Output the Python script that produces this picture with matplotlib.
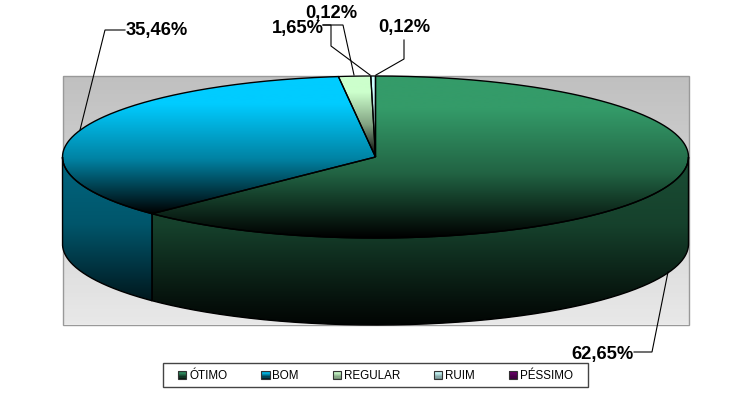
import numpy as np
import matplotlib
matplotlib.use("Agg")
import matplotlib.pyplot as plt
from matplotlib.patches import PathPatch, Rectangle, Patch
from matplotlib.path import Path
from matplotlib.legend_handler import HandlerBase
from matplotlib.colors import LinearSegmentedColormap, to_rgb

plt.rcParams["font.family"] = ["Liberation Sans", "DejaVu Sans"]

categories = ["ÓTIMO", "BOM", "REGULAR", "RUIM", "PÉSSIMO"]
values = [62.65, 35.46, 1.65, 0.12, 0.12]
value_labels = ["62,65%", "35,46%", "1,65%", "0,12%", "0,12%"]
colors = ["#349b69", "#00ccff", "#ccffcc", "#ccffff", "#660066"]

# geometria do disco, em pixels da figura
CX, CY = 375.5, 157
RX, RY = 313, 81
DEPTH = 87


def rim(t):
    # t em graus, sentido horario a partir do topo
    t = np.radians(t)
    return CX + RX * np.sin(t), CY - RY * np.cos(t)


def gradient(ax, path, stops, y0, y1, lw=1.0):
    cmap = LinearSegmentedColormap.from_list("g", stops)
    im = ax.imshow(np.linspace(0, 1, 256).reshape(-1, 1), cmap=cmap, aspect="auto",
                   extent=(0, 742, y1, y0), vmin=0, vmax=1, zorder=2)
    patch = PathPatch(path, fc="none", ec="black", lw=lw, zorder=3)
    ax.add_patch(patch)
    im.set_clip_path(patch)


def top_path(a, b):
    ts = np.linspace(a, b, max(int(b - a) * 2, 4))
    x, y = rim(ts)
    pts = [(CX, CY)] + list(zip(x, y)) + [(CX, CY)]
    return Path(pts)


def side_path(a, b):
    ts = np.linspace(a, b, max(int(b - a) * 2, 4))
    x, y = rim(ts)
    up = list(zip(x, y))
    down = list(zip(x[::-1], y[::-1] + DEPTH))
    return Path(up + down + [up[0]])


def top_stops(rgb):
    return [(0, rgb), (0.2, rgb), (0.6, rgb * 0.64), (1, (0, 0, 0))]


def side_stops(rgb):
    return [(0, rgb * 0.5), (0.4, rgb * 0.42), (0.85, rgb * 0.12), (1, rgb * 0.03)]


class GradientHandler(HandlerBase):
    def create_artists(self, legend, orig, xd, yd, w, h, fontsize, trans):
        out = []
        base = np.array(to_rgb(orig.get_facecolor()))
        light = orig.get_label() in ("REGULAR", "RUIM", "PÉSSIMO")
        for i in range(6):
            c = base * (1 - i / 12) if light else base * (1 - i / 6)
            out.append(Rectangle((-xd, -yd + h * (5 - i) / 6), w, h / 6, fc=c, ec="none", transform=trans))
        out.append(Rectangle((-xd, -yd), w, h, fc="none", ec="#333333", lw=0.8, transform=trans))
        return out


fig = plt.figure(figsize=(7.42, 4.07), dpi=100)
ax = fig.add_axes([0, 0, 1, 1])
ax.axis("off")

# fundo da area de plotagem
bg = Rectangle((62.5, 75.5), 626, 249, fc="none", ec="#999999", lw=1.0, zorder=1)
ax.add_patch(bg)
im = ax.imshow(np.linspace(0, 1, 64).reshape(-1, 1),
               cmap=LinearSegmentedColormap.from_list("bg", ["#c0c0c0", "#e8e8e8"]),
               aspect="auto", extent=(0, 742, 325, 75), vmin=0, vmax=1, zorder=0.5)
im.set_clip_path(bg)

# faces laterais e superiores
edges = np.concatenate([[0], np.cumsum(values)]) / sum(values) * 360
for i in range(len(values)):
    a, b = edges[i], edges[i + 1]
    rgb = np.array(to_rgb(colors[i]))
    lo, hi = max(a, 90), min(b, 270)
    if lo < hi:
        gradient(ax, side_path(lo, hi), side_stops(rgb), CY, CY + RY + DEPTH)

for i in range(len(values) - 1):
    a, b = edges[i], edges[i + 1]
    # no original a fatia PESSIMO some dentro da RUIM, as duas saem claras
    if i == 3:
        b = edges[-1]
    rgb = np.array(to_rgb(colors[i]))
    path = top_path(a, b)
    ys = path.vertices[:, 1]
    gradient(ax, path, top_stops(rgb), ys.min(), ys.max(), lw=1.0 if i < 2 else 0.9)

# rotulos e linhas de chamada
leaders = [
    ([634, 652, 668], [352, 352, 272]),
    ([125, 105, 80], [30, 30, 130]),
    ([323, 331, 331, 370], [25, 25, 46, 75]),
    ([323, 343, 354], [25, 25, 75]),
    ([404, 404, 376], [40, 59, 75]),
]
for xs, ys in leaders:
    ax.plot(xs, ys, color="black", lw=0.8, zorder=4, solid_joinstyle="miter")

label_pos = [(603, 354.5), (156.5, 31), (297.5, 28.5), (331, 13.5), (404, 27.5)]
for pos, txt in zip(label_pos, value_labels):
    ax.text(pos[0], pos[1], txt, fontsize=13.2, fontweight="bold", color="black",
            ha="center", va="center", zorder=5)

ax.set_xlim(0, 742)
ax.set_ylim(407, 0)

# moldura da legenda
ax.add_patch(Rectangle((162.5, 363), 425.5, 24, fc="white", ec="#444444", lw=1.0, zorder=5))
handles = [Patch(facecolor=c, label=n) for c, n in zip(colors, categories)]
leg = ax.legend(handles=handles, ncol=5, loc="center", bbox_to_anchor=(375.5, 376),
                bbox_transform=ax.transData, fontsize=8.4, frameon=False,
                handlelength=0.7, handleheight=0.7, handletextpad=0.25, columnspacing=2.9,
                borderpad=0.3, handler_map={Patch: GradientHandler()})
leg.set_zorder(6)

fig.savefig("out.png", dpi=100)
